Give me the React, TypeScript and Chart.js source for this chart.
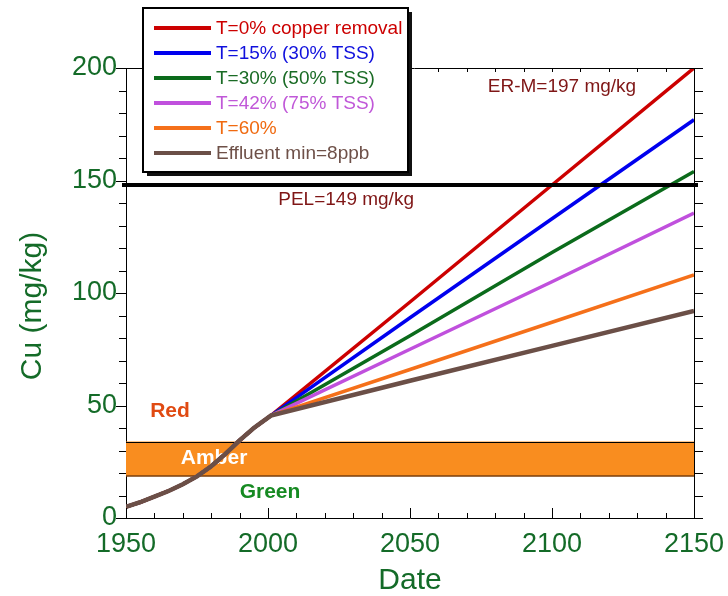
import React, { useEffect, useRef } from 'react';
import { Chart, registerables } from 'chart.js';

Chart.register(...registerables);

// ---- data ----
const HISTORY_YEARS = [1950, 1955, 1960, 1965, 1970, 1975, 1980, 1985, 1990, 1995, 2001];
const HISTORY_CU = [5, 7, 9.5, 12, 15, 18.5, 23, 28.5, 34.5, 40, 45.5];
const FUTURE_YEARS = [2050, 2100, 2150];

const SERIES_LABELS = [
  'T=0% copper removal',
  'T=15% (30% TSS)',
  'T=30% (50% TSS)',
  'T=42% (75% TSS)',
  'T=60%',
  'Effluent min=8ppb',
];
const T0_FUTURE = [96, 148, 200];
const T15_FUTURE = [89, 133, 177];
const T30_FUTURE = [81, 118, 154];
const T42_FUTURE = [75, 105, 135.5];
const T60_FUTURE = [66, 87, 108];
const EFFLUENT_FUTURE = [61, 76.5, 92];
const FUTURES = [T0_FUTURE, T15_FUTURE, T30_FUTURE, T42_FUTURE, T60_FUTURE, EFFLUENT_FUTURE];

const SERIES_COLORS = ['#cc0000', '#0000ee', '#0b6b1b', '#c050dd', '#f5701a', '#6b4f47'];
const TEXT_COLORS = ['#cc0000', '#1010dd', '#1a6b25', '#c058d8', '#f06a10', '#6e5048'];

const X_TICKS = [1950, 2000, 2050, 2100, 2150];
const Y_TICKS = [0, 50, 100, 150, 200];
const Y_TITLE = 'Cu (mg/kg)';
const X_TITLE = 'Date';

const AMBER_LOW = 18.7;
const AMBER_HIGH = 34;
const PEL_LEVEL = 148;
const PEL_TEXT = 'PEL=149 mg/kg';
const ERM_TEXT = 'ER-M=197 mg/kg';
const PEL_LABEL_AT = [2027.5, 141.3];
const ERM_LABEL_AT = [2103.5, 191.5];
const ZONE_LABELS = ['Red', 'Amber', 'Green'];
const ZONE_LABEL_AT = [
  [1965.5, 47.5],
  [1981, 26.7],
  [2000.7, 11.5],
];
const ZONE_COLORS = ['#e04a12', '#ffffff', '#168a22'];

const FONT = '"Liberation Sans", Arial, sans-serif';
const AXIS_GREEN = '#146b28';

const overlayPlugin = {
  id: 'overlay',
  beforeDatasetsDraw(chart: any) {
    const { ctx, chartArea: a, scales } = chart;
    const x = scales.x;
    const y = scales.y;
    ctx.save();
    const yTop = y.getPixelForValue(AMBER_HIGH);
    const yBot = y.getPixelForValue(AMBER_LOW);
    ctx.fillStyle = '#f98d1f';
    ctx.fillRect(a.left, yTop, a.right - a.left, yBot - yTop);
    ctx.lineWidth = 1;
    ctx.strokeStyle = '#000';
    ctx.beginPath();
    ctx.moveTo(a.left, Math.round(yTop) + 0.5);
    ctx.lineTo(a.right, Math.round(yTop) + 0.5);
    ctx.stroke();
    ctx.strokeStyle = '#7a3c08';
    ctx.lineWidth = 1.5;
    ctx.beginPath();
    ctx.moveTo(a.left, yBot);
    ctx.lineTo(a.right, yBot);
    ctx.stroke();

    ctx.font = `bold 21px ${FONT}`;
    ctx.textAlign = 'center';
    ctx.textBaseline = 'middle';
    ZONE_LABELS.forEach((t, i) => {
      ctx.fillStyle = ZONE_COLORS[i];
      ctx.fillText(t, x.getPixelForValue(ZONE_LABEL_AT[i][0]), y.getPixelForValue(ZONE_LABEL_AT[i][1]));
    });

    // y axis title
    ctx.save();
    ctx.translate(33, (a.top + a.bottom) / 2 + 13);
    ctx.rotate(-Math.PI / 2);
    ctx.font = `30px ${FONT}`;
    ctx.fillStyle = AXIS_GREEN;
    ctx.fillText(Y_TITLE, 0, 0);
    ctx.restore();
    ctx.restore();
  },
  afterDatasetsDraw(chart: any) {
    const { ctx, chartArea: a, scales } = chart;
    const x = scales.x;
    const y = scales.y;
    ctx.save();
    // PEL line
    const py = y.getPixelForValue(PEL_LEVEL);
    ctx.strokeStyle = '#000';
    ctx.lineWidth = 4;
    ctx.beginPath();
    ctx.moveTo(a.left - 4, py);
    ctx.lineTo(a.right + 4, py);
    ctx.stroke();

    ctx.font = `19px ${FONT}`;
    ctx.fillStyle = '#7f1616';
    ctx.textAlign = 'center';
    ctx.textBaseline = 'middle';
    ctx.fillText(PEL_TEXT, x.getPixelForValue(PEL_LABEL_AT[0]), y.getPixelForValue(PEL_LABEL_AT[1]));
    ctx.fillText(ERM_TEXT, x.getPixelForValue(ERM_LABEL_AT[0]), y.getPixelForValue(ERM_LABEL_AT[1]));

    // frame: top and right
    ctx.lineWidth = 1;
    ctx.strokeStyle = '#000';
    ctx.beginPath();
    ctx.moveTo(a.left, a.top + 0.5);
    ctx.lineTo(a.right + 9, a.top + 0.5);
    ctx.moveTo(a.right + 0.5, a.top);
    ctx.lineTo(a.right + 0.5, a.bottom);
    ctx.moveTo(a.right, a.bottom + 0.5);
    ctx.lineTo(a.right + 9, a.bottom + 0.5);
    ctx.stroke();

    // ticks
    ctx.beginPath();
    for (let v = 0; v <= 200; v += 10) {
      const yy = Math.round(y.getPixelForValue(v)) + 0.5;
      const major = v % 50 === 0;
      ctx.moveTo(a.left - (major ? 10 : 7), yy);
      ctx.lineTo(a.left, yy);
      ctx.moveTo(a.right, yy);
      ctx.lineTo(a.right + 9, yy);
    }
    for (let v = 1950; v <= 2150; v += 10) {
      const xx = Math.round(x.getPixelForValue(v)) + 0.5;
      const major = v % 50 === 0;
      ctx.moveTo(xx, a.bottom);
      ctx.lineTo(xx, a.bottom - (major ? 10 : 5));
      ctx.moveTo(xx, a.top);
      ctx.lineTo(xx, a.top + 4);
    }
    ctx.stroke();
    ctx.restore();
  },
  afterDraw(chart: any) {
    const { ctx, chartArea: a } = chart;
    ctx.save();
    const bx = a.left + 17;
    const by = 8;
    const bw = 265;
    const bh = 164;
    ctx.fillStyle = '#111';
    ctx.fillRect(bx + 4, by + 4, bw, bh);
    ctx.fillStyle = '#fff';
    ctx.fillRect(bx, by, bw, bh);
    ctx.strokeStyle = '#000';
    ctx.lineWidth = 2;
    ctx.strokeRect(bx, by, bw, bh);

    ctx.font = `19px ${FONT}`;
    ctx.textAlign = 'left';
    ctx.textBaseline = 'middle';
    chart.data.datasets.forEach((ds: any, i: number) => {
      const ry = by + 20 + i * 25;
      ctx.strokeStyle = ds.borderColor;
      ctx.lineWidth = 4;
      ctx.beginPath();
      ctx.moveTo(bx + 11, ry);
      ctx.lineTo(bx + 68, ry);
      ctx.stroke();
      ctx.fillStyle = TEXT_COLORS[i];
      ctx.fillText(ds.label, bx + 73, ry + 1);
    });
    ctx.restore();
  },
};

export default function App() {
  const ref = useRef<HTMLCanvasElement | null>(null);
  useEffect(() => {
    if (!ref.current) return;
    const datasets = SERIES_LABELS.map((label, i) => ({
      label,
      data: [
        ...HISTORY_YEARS.map((yr, j) => ({ x: yr, y: HISTORY_CU[j] })),
        ...FUTURE_YEARS.map((yr, j) => ({ x: yr, y: FUTURES[i][j] })),
      ],
      borderColor: SERIES_COLORS[i],
      backgroundColor: SERIES_COLORS[i],
      borderWidth: i === 5 ? 4.5 : 3.5,
      pointRadius: 0,
      tension: 0,
      order: SERIES_LABELS.length - i,
      fill: false,
    }));
    const chart = new Chart(ref.current, {
      type: 'line',
      data: { datasets },
      plugins: [overlayPlugin],
      options: {
        responsive: false,
        animation: false,
        devicePixelRatio: 1,
        layout: { padding: { top: 68, right: 34, left: 0, bottom: 0 } },
        plugins: { legend: { display: false }, tooltip: { enabled: false } },
        scales: {
          x: {
            type: 'linear',
            min: 1950,
            max: 2150,
            afterFit: (s: any) => {
              s.height = 78;
              s.paddingLeft = 0;
              s.paddingRight = 0;
            },
            afterBuildTicks: (s: any) => { s.ticks = X_TICKS.map((v) => ({ value: v })); },
            ticks: {
              callback: (v: any) => String(v),
              font: { family: FONT, size: 27 },
              color: AXIS_GREEN,
              padding: 10,
              maxRotation: 0,
            },
            grid: { display: false, drawTicks: false },
            border: { display: true, color: '#000', width: 1 },
            title: {
              display: true,
              text: X_TITLE,
              font: { family: FONT, size: 30 },
              color: AXIS_GREEN,
              padding: { top: 0, bottom: -3 },
            },
          },
          y: {
            type: 'linear',
            min: 0,
            max: 200,
            afterFit: (s: any) => {
              s.width = 126;
              s.paddingTop = 0;
              s.paddingBottom = 0;
            },
            afterBuildTicks: (s: any) => { s.ticks = Y_TICKS.map((v) => ({ value: v })); },
            ticks: {
              font: { family: FONT, size: 27 },
              color: AXIS_GREEN,
              padding: 9,
            },
            grid: { display: false, drawTicks: false },
            border: { display: true, color: '#000', width: 1 },
            title: { display: false },
          },
        },
      },
    });
    return () => chart.destroy();
  }, []);
  return (
    <div style={{ position: 'absolute', left: 0, top: 0, width: 728, height: 596, background: '#fff' }}>
      <canvas ref={ref} width={728} height={596} style={{ display: 'block' }} />
    </div>
  );
}
